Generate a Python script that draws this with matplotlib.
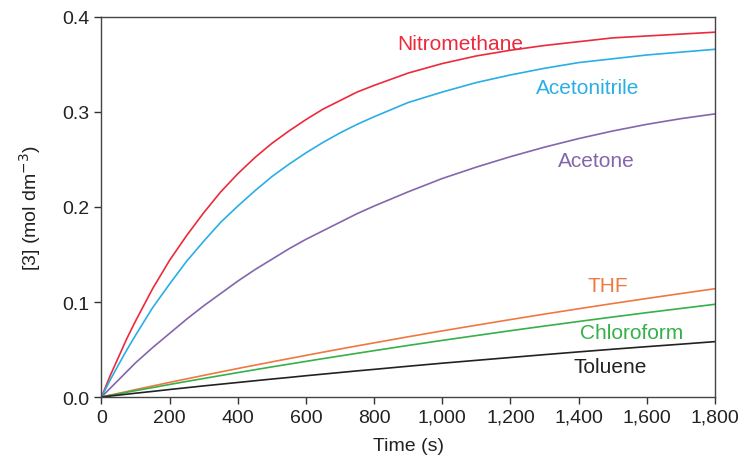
import matplotlib
matplotlib.use("Agg")
import matplotlib.pyplot as plt

plt.rcParams['font.family'] = ['Liberation Sans', 'DejaVu Sans']

# time points (s)
time = [0, 25, 50, 75, 100, 150, 200, 250, 300, 350, 400, 450, 500, 550, 600, 650, 700, 750,
        800, 900, 1000, 1100, 1200, 1300, 1400, 1500, 1600, 1700, 1800]

# [3] in mol dm-3
nitromethane = [0, 0.022, 0.042, 0.062, 0.080, 0.114, 0.144, 0.170, 0.194, 0.216, 0.235,
                0.252, 0.267, 0.280, 0.292, 0.303, 0.312, 0.321,
                0.328, 0.341, 0.351, 0.359, 0.365, 0.370, 0.374, 0.378, 0.380, 0.382, 0.384]
acetonitrile = [0, 0.0175, 0.034, 0.050, 0.065, 0.094, 0.119, 0.143, 0.164, 0.184, 0.201,
                0.217, 0.232, 0.245, 0.257, 0.268, 0.278, 0.287,
                0.295, 0.310, 0.321, 0.331, 0.339, 0.346, 0.352, 0.356, 0.360, 0.363, 0.366]
acetone = [0, 0.009, 0.018, 0.027, 0.036, 0.052, 0.067, 0.082, 0.096, 0.109, 0.122,
           0.134, 0.145, 0.156, 0.166, 0.175, 0.184, 0.193,
           0.201, 0.216, 0.230, 0.242, 0.253, 0.263, 0.272, 0.280, 0.287, 0.293, 0.298]
thf = [0, 0.0020, 0.0039, 0.0058, 0.0078, 0.0116, 0.0154, 0.0191, 0.0228, 0.0264, 0.0300,
       0.0335, 0.0370, 0.0404, 0.0438, 0.0472, 0.0505, 0.0538,
       0.0570, 0.0634, 0.0696, 0.0756, 0.0815, 0.0873, 0.0929, 0.0984, 0.1037, 0.1089, 0.1140]
chloroform = [0, 0.0017, 0.0033, 0.0050, 0.0067, 0.0099, 0.0132, 0.0164, 0.0195, 0.0226, 0.0257,
              0.0287, 0.0317, 0.0346, 0.0375, 0.0404, 0.0432, 0.0460,
              0.0488, 0.0543, 0.0596, 0.0647, 0.0698, 0.0747, 0.0795, 0.0842, 0.0888, 0.0932, 0.0976]
toluene = [0, 0.0010, 0.0020, 0.0030, 0.0040, 0.0059, 0.0079, 0.0098, 0.0117, 0.0135, 0.0153,
           0.0171, 0.0189, 0.0206, 0.0224, 0.0241, 0.0258, 0.0275,
           0.0291, 0.0324, 0.0356, 0.0386, 0.0416, 0.0446, 0.0475, 0.0503, 0.0530, 0.0556, 0.0583]

series = [
    ("Nitromethane", nitromethane, "#ec2a3c", (1052, 0.372)),
    ("Acetonitrile", acetonitrile, "#2aaee6", (1425, 0.326)),
    ("Acetone", acetone, "#8466ac", (1451, 0.249)),
    ("THF", thf, "#f07840", (1486, 0.117)),
    ("Chloroform", chloroform, "#36b04a", (1556, 0.068)),
    ("Toluene", toluene, "#222222", (1492, 0.032)),
]

fig = plt.figure(figsize=(7.44, 4.77), dpi=100)
ax = fig.add_axes([0.1364, 0.1656, 0.8246, 0.7967])

for name, vals, color, pos in series:
    ax.plot(time, vals, color=color, lw=1.2, solid_joinstyle='round')
    ax.text(pos[0], pos[1], name, color=color, fontsize=15, ha='center', va='center')

ax.set_xlim(0, 1800)
ax.set_ylim(0, 0.4)
ax.set_xticks(range(0, 1801, 200))
ax.set_xticklabels(['{:,}'.format(t) for t in range(0, 1801, 200)])
ax.set_yticks([0, 0.1, 0.2, 0.3, 0.4])
ax.set_yticklabels(['0.0', '0.1', '0.2', '0.3', '0.4'])
ax.tick_params(direction='out', length=5, width=1, colors='#333333', labelsize=14,
               labelcolor='#222222')
for s in ax.spines.values():
    s.set_color('#444444')
    s.set_linewidth(1)

ax.set_xlabel('Time (s)', fontsize=14, color='#222222', labelpad=8)
ax.set_ylabel('[3] (mol dm$^{-3}$)', fontsize=14, color='#222222', labelpad=14)

fig.savefig('out.png', dpi=100)
